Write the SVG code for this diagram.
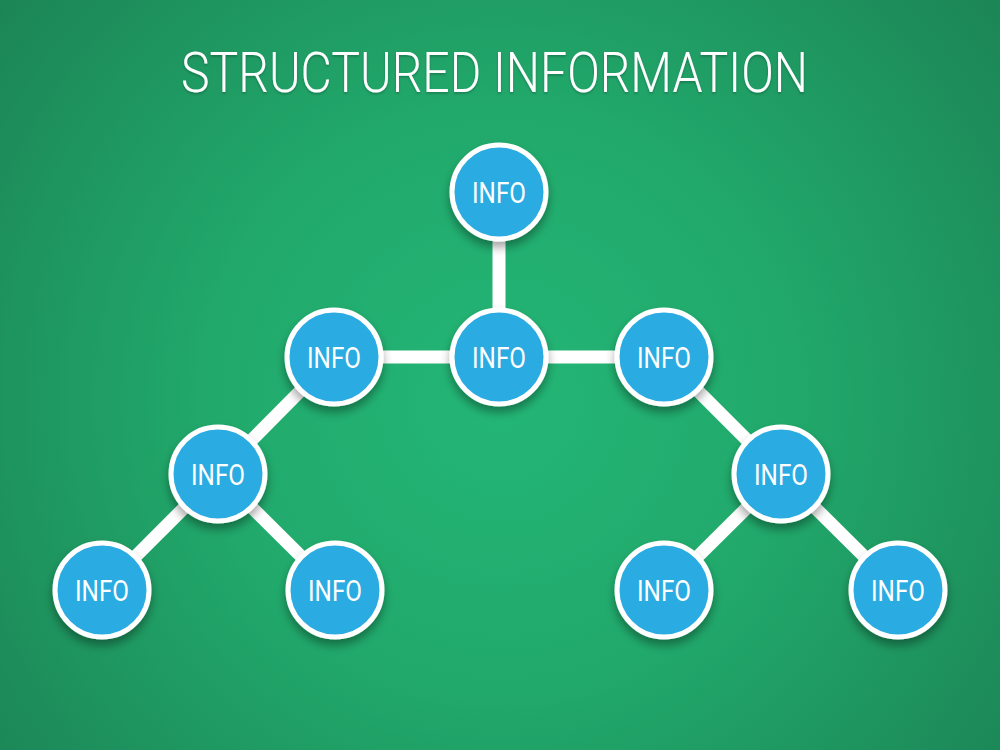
<svg xmlns="http://www.w3.org/2000/svg" width="1000" height="750" viewBox="0 0 1000 750">
  <defs>
    <radialGradient id="bg" gradientUnits="userSpaceOnUse" cx="500" cy="400" r="640">
      <stop offset="0" stop-color="#23b676"/>
      <stop offset="0.45" stop-color="#21a96b"/>
      <stop offset="1" stop-color="#1c8556"/>
    </radialGradient>
    <filter id="shadow" x="-30%" y="-30%" width="160%" height="170%">
      <feDropShadow dx="0" dy="6" stdDeviation="5" flood-color="#000" flood-opacity="0.35"/>
    </filter>
    <filter id="tshadow" x="-5%" y="-20%" width="110%" height="150%">
      <feDropShadow dx="0" dy="1.5" stdDeviation="1" flood-color="#000" flood-opacity="0.25"/>
    </filter>
  </defs>
  <style>
    .link { stroke: #ffffff; stroke-width: 13; stroke-linecap: butt; fill: none; }
    .node circle { fill: #29abe2; stroke: #ffffff; stroke-width: 5; filter: url(#shadow); }
    .node text { fill: #ffffff; font-family: Roboto, "DejaVu Sans", sans-serif; font-weight: 400; font-size: 29px; text-anchor: middle; }
    .title { fill: #ffffff; font-family: Roboto, "DejaVu Sans", sans-serif; font-weight: 300; font-size: 56px; }
  </style>
  <rect x="0" y="0" width="1000" height="750" fill="url(#bg)"/>
  <text class="title" x="181" y="92" textLength="627" lengthAdjust="spacingAndGlyphs" filter="url(#tshadow)">STRUCTURED INFORMATION</text>

  <g id="connectors">
    <line class="link" x1="499" y1="192" x2="499" y2="357"/>
    <line class="link" x1="334" y1="357" x2="664" y2="357"/>
    <line class="link" x1="334" y1="357" x2="218" y2="474"/>
    <line class="link" x1="218" y1="474" x2="102" y2="590"/>
    <line class="link" x1="218" y1="474" x2="335" y2="590"/>
    <line class="link" x1="664" y1="357" x2="781" y2="474"/>
    <line class="link" x1="781" y1="474" x2="664" y2="590"/>
    <line class="link" x1="781" y1="474" x2="898" y2="590"/>
  </g>

  <g id="node-top" class="node"><circle cx="499" cy="192" r="47"/><text x="499" y="202.5" textLength="54" lengthAdjust="spacingAndGlyphs">INFO</text></g>
  <g id="node-mid-left" class="node"><circle cx="334" cy="357" r="47"/><text x="334" y="367.5" textLength="54" lengthAdjust="spacingAndGlyphs">INFO</text></g>
  <g id="node-center" class="node"><circle cx="499" cy="357" r="47"/><text x="499" y="367.5" textLength="54" lengthAdjust="spacingAndGlyphs">INFO</text></g>
  <g id="node-mid-right" class="node"><circle cx="664" cy="357" r="47"/><text x="664" y="367.5" textLength="54" lengthAdjust="spacingAndGlyphs">INFO</text></g>
  <g id="node-left" class="node"><circle cx="218" cy="474" r="47"/><text x="218" y="484.5" textLength="54" lengthAdjust="spacingAndGlyphs">INFO</text></g>
  <g id="node-right" class="node"><circle cx="781" cy="474" r="47"/><text x="781" y="484.5" textLength="54" lengthAdjust="spacingAndGlyphs">INFO</text></g>
  <g id="node-leaf-1" class="node"><circle cx="102" cy="590" r="47"/><text x="102" y="600.5" textLength="54" lengthAdjust="spacingAndGlyphs">INFO</text></g>
  <g id="node-leaf-2" class="node"><circle cx="335" cy="590" r="47"/><text x="335" y="600.5" textLength="54" lengthAdjust="spacingAndGlyphs">INFO</text></g>
  <g id="node-leaf-3" class="node"><circle cx="664" cy="590" r="47"/><text x="664" y="600.5" textLength="54" lengthAdjust="spacingAndGlyphs">INFO</text></g>
  <g id="node-leaf-4" class="node"><circle cx="898" cy="590" r="47"/><text x="898" y="600.5" textLength="54" lengthAdjust="spacingAndGlyphs">INFO</text></g>
</svg>
